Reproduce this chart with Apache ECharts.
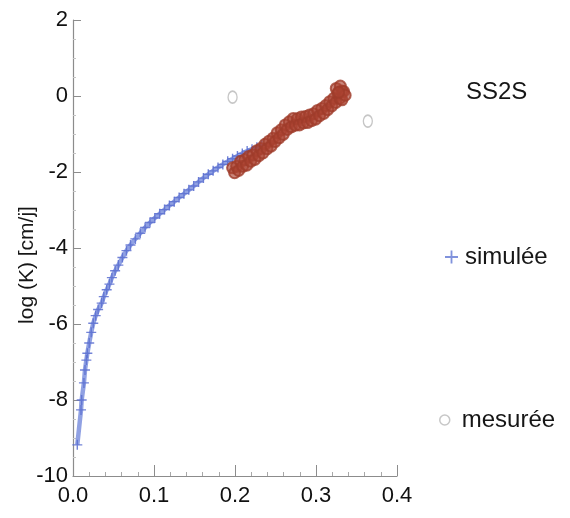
<!DOCTYPE html>
<html>
<head>
<meta charset="utf-8">
<title>SS2S – log (K)</title>
<script src="https://cdn.jsdelivr.net/npm/echarts@6/dist/echarts.min.js"></script>
<style>
  html, body { margin: 0; padding: 0; background: #fff; }
  #chart { width: 570px; height: 518px; }
</style>
</head>
<body>
<div id="chart"></div>
<script>
// Simulated conductivity curve: water content vs log(K)
const simX = [0.0053, 0.0099, 0.0107, 0.0135, 0.0148, 0.0165, 0.0177, 0.0200, 0.0225, 0.0250,
              0.0280, 0.0310, 0.0354, 0.0380, 0.0416, 0.0450, 0.0480, 0.0520, 0.0560, 0.0610,
              0.0660, 0.0710, 0.0770, 0.0830, 0.0890, 0.0950, 0.1010, 0.1070, 0.1130, 0.1190,
              0.1250, 0.1310, 0.1370, 0.1430, 0.1490, 0.1550, 0.1610, 0.1670, 0.1730, 0.1790,
              0.1850, 0.1910, 0.1970, 0.2030, 0.2090, 0.2150, 0.2210, 0.2270, 0.2330];
const simY = [-9.18, -8.26, -8.00, -7.55, -7.21, -6.95, -6.77, -6.50, -6.22, -5.98,
              -5.78, -5.62, -5.45, -5.28, -5.10, -4.95, -4.78, -4.60, -4.45, -4.25,
              -4.07, -3.92, -3.76, -3.61, -3.46, -3.33, -3.21, -3.10, -2.99, -2.88,
              -2.78, -2.67, -2.57, -2.47, -2.37, -2.26, -2.16, -2.06, -1.97, -1.88,
              -1.80, -1.72, -1.65, -1.58, -1.51, -1.45, -1.40, -1.35, -1.30];

// Measured points
const mesX = [0.1970, 0.1995, 0.2020, 0.2045, 0.2070, 0.2095, 0.2120, 0.2145, 0.2170, 0.2195,
              0.2220, 0.2245, 0.2270, 0.2295, 0.2320, 0.2345, 0.2370, 0.2395, 0.2420, 0.2445,
              0.2470, 0.2495, 0.2520, 0.2545, 0.2570, 0.2595, 0.2620, 0.2645, 0.2670, 0.2695,
              0.2720, 0.2745, 0.2770, 0.2795, 0.2820, 0.2845, 0.2870, 0.2895, 0.2920, 0.2945,
              0.2970, 0.2995, 0.3020, 0.3045, 0.3070, 0.3095, 0.3120, 0.3145, 0.3170, 0.3195,
              0.3220, 0.3245, 0.3270, 0.3295, 0.3320,
              0.3250, 0.3300, 0.3340, 0.3320, 0.3360, 0.3280];
const mesY = [-1.89, -2.02, -1.85, -1.96, -1.72, -1.85, -1.68, -1.82, -1.59, -1.72,
              -1.55, -1.67, -1.44, -1.57, -1.38, -1.50, -1.27, -1.39, -1.19, -1.32,
              -1.11, -1.20, -0.97, -1.10, -0.89, -1.01, -0.76, -0.88, -0.68, -0.81,
              -0.59, -0.77, -0.60, -0.76, -0.55, -0.71, -0.54, -0.70, -0.50, -0.65,
              -0.47, -0.61, -0.38, -0.52, -0.33, -0.46, -0.25, -0.36, -0.15, -0.26,
              -0.06, -0.17, 0.07, -0.06, 0.13,
              0.20, 0.26, 0.12, -0.10, 0.02, 0.10];
// Isolated measured points
const isoX = [0.1970, 0.3640];
const isoY = [-0.03, -0.66];

const FONT = 'Liberation Sans, Arial, sans-serif';
const PLUS = 'path://M4.3,0H5.7V4.3H10V5.7H5.7V10H4.3V5.7H0V4.3H4.3Z';
const zip = (xs, ys) => xs.map((x, i) => [x, ys[i]]);

const chart = echarts.init(document.getElementById('chart'), null, { renderer: 'canvas' });
chart.setOption({
  animation: false,
  backgroundColor: '#ffffff',
  title: {
    text: 'SS2S', left: 461, top: 75,
    textStyle: { fontFamily: FONT, fontSize: 24, fontWeight: 'normal', color: '#161616' }
  },
  legend: [
    {
      data: [{ name: 'simulée', icon: PLUS, itemStyle: { color: '#6a7fd6' } }],
      left: 440, top: 240, itemWidth: 13, itemHeight: 13, itemGap: 4,
      textStyle: { fontFamily: FONT, fontSize: 24, color: '#161616', padding: [0, 0, 0, 2] }
    },
    {
      data: [{ name: 'mesurée', icon: 'circle',
               itemStyle: { color: 'rgba(255,255,255,0)', borderColor: '#b9b9b9', borderWidth: 1.5 } }],
      left: 434, top: 403, itemWidth: 10, itemHeight: 12,
      textStyle: { fontFamily: FONT, fontSize: 24, color: '#161616', padding: [0, 0, 0, 7] }
    }
  ],
  grid: { left: 73, top: 20, width: 324, height: 456, containLabel: false },
  xAxis: {
    type: 'value', min: 0, max: 0.4, interval: 0.1,
    axisLine: { onZero: false, lineStyle: { color: '#8c8c8c', width: 1.2 } },
    axisTick: { inside: true, length: 11, lineStyle: { color: '#8c8c8c' } },
    minorTick: { show: true, splitNumber: 5, length: 4, lineStyle: { color: '#a8a8a8' } },
    splitLine: { show: false },
    axisLabel: { formatter: v => v.toFixed(1), fontFamily: FONT, fontSize: 22, color: '#111', margin: 9 }
  },
  yAxis: {
    type: 'value', min: -10, max: 2, interval: 2,
    axisLine: { show: true, onZero: false, lineStyle: { color: '#8c8c8c', width: 1.2 } },
    axisTick: { show: true, inside: true, length: 8, lineStyle: { color: '#8c8c8c' } },
    minorTick: { show: true, splitNumber: 4, length: 3, lineStyle: { color: '#c4c4c4' } },
    splitLine: { show: false },
    axisLabel: { fontFamily: FONT, fontSize: 22, color: '#111', margin: 5 }
  },
  graphic: [
    {
      type: 'text', x: 27, y: 265, rotation: Math.PI / 2,
      style: {
        text: 'log (K) [cm/j]', fontFamily: FONT, fontSize: 21, fill: '#161616',
        textAlign: 'center', textVerticalAlign: 'middle'
      }
    }
  ],
  series: [
    {
      name: 'simulée', type: 'line', data: zip(simX, simY),
      symbol: PLUS, symbolSize: 10, showAllSymbol: true,
      lineStyle: { color: '#7d91de', width: 4.5, opacity: 0.85 },
      itemStyle: { color: '#5a6ed0', opacity: 0.85 },
      z: 2
    },
    {
      name: 'mesurée', type: 'scatter', data: zip(mesX, mesY),
      symbol: 'circle', symbolSize: 11,
      itemStyle: { color: 'rgba(172,68,50,0.8)', borderColor: '#9f3c2b', borderWidth: 2 },
      z: 3
    },
    {
      name: 'mesurée', type: 'scatter', data: zip(isoX, isoY),
      symbol: 'circle', symbolSize: [9, 12],
      itemStyle: { color: 'rgba(255,255,255,0)', borderColor: '#b8b8b8', borderWidth: 1.5 },
      z: 3
    }
  ]
});
</script>
</body>
</html>
